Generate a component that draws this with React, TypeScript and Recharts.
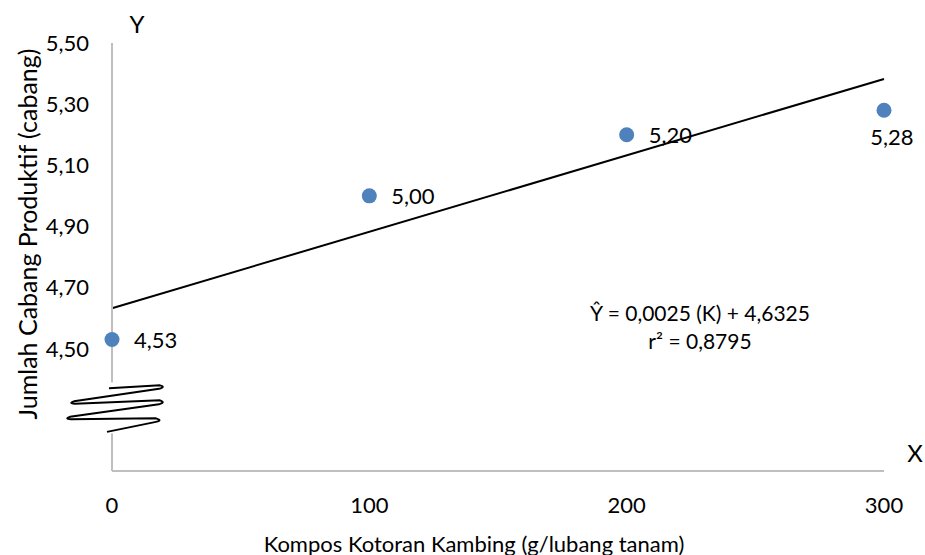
import React from 'react'
import {
  ScatterChart, Scatter, XAxis, YAxis, ReferenceLine, ReferenceDot, Label,
} from 'recharts'

// observed data: compost dose (g/planting hole) vs productive branches
const doses = [0, 100, 200, 300]
const branches = [4.53, 5.0, 5.2, 5.28]

// linear trend shown on the chart: Y = 0.0025 K + 4.6325
const trendX = [0, 300]
const trendY = [4.6325, 5.3825]

const xTicks = [0, 100, 200, 300]
const yTicks = [4.5, 4.7, 4.9, 5.1, 5.3, 5.5]
const yDomain = [4.1, 5.5]
const axisBreakAt = 4.3

const FONT = 'Lato, "Open Sans", sans-serif'
const AXIS_GRAY = '#BFBFBF'
const DOT_BLUE = '#4F81BD'

const points = doses.map((x, i) => ({ x, y: branches[i] }))
const fmt = (v: number) => v.toFixed(2).replace('.', ',')

function DotWithLabel(props: any) {
  const { cx, cy, payload } = props
  if (cx == null || cy == null) return null
  const last = payload && payload.x === doses[doses.length - 1]
  return (
    <g>
      <circle cx={cx} cy={cy} r={7.5} fill={DOT_BLUE} />
      {last ? (
        <text x={cx + 8} y={cy + 26} textAnchor="middle" dominantBaseline="central"
          fontSize={22} fontFamily={FONT} fill="#000">{fmt(payload.y)}</text>
      ) : (
        <text x={cx + 22} y={cy} textAnchor="start" dominantBaseline="central"
          fontSize={22} fontFamily={FONT} fill="#000">{fmt(payload.y)}</text>
      )}
    </g>
  )
}

// zigzag drawn over the y axis to mark the broken scale
function BreakMark(props: any) {
  const { cx, cy } = props
  if (cx == null || cy == null) return null
  const p = (dx: number, dy: number) => `${cx + dx},${cy + dy}`
  const d = [
    `M${p(-3, -21.5)}`,
    `L${p(48, -24.5)}`,
    `Q${p(54, -23)} ${p(47, -21)}`,
    `L${p(-38, -8.5)}`,
    `Q${p(-44, -6.5)} ${p(-37, -6)}`,
    `L${p(48, -9.5)}`,
    `Q${p(54, -7.5)} ${p(47, -5.5)}`,
    `L${p(-42, 7)}`,
    `Q${p(-48, 9)} ${p(-41, 9.5)}`,
    `L${p(44, 8.5)}`,
    `Q${p(51, 10.5)} ${p(44, 12)}`,
    `L${p(-5, 22)}`,
  ].join(' ')
  return (
    <g>
      <rect x={cx - 3} y={cy - 27.5} width={6} height={51} fill="#fff" />
      <path d={d} fill="none" stroke="#000" strokeWidth={2} strokeLinejoin="round" />
    </g>
  )
}

function XTitle() {
  return (
    <g fontFamily={FONT} fill="#000">
      <text x={474} y={543} textAnchor="middle" dominantBaseline="central" fontSize={22}>
        Kompos Kotoran Kambing (g/lubang tanam)
      </text>
      <text x={915} y={452} textAnchor="middle" dominantBaseline="central" fontSize={24}>X</text>
      <text x={700} y={312} textAnchor="middle" dominantBaseline="central" fontSize={21}>
        Ŷ = 0,0025 (K) + 4,6325
      </text>
      <text x={700} y={340} textAnchor="middle" dominantBaseline="central" fontSize={21}>
        r² = 0,8795
      </text>
    </g>
  )
}

function YTitle() {
  return (
    <g fontFamily={FONT} fill="#000">
      <text x={27} y={234} transform="rotate(-90 27 234)" textAnchor="middle"
        dominantBaseline="central" fontSize={25}>
        Jumlah Cabang Produktif (cabang)
      </text>
      <text x={137} y={23} textAnchor="middle" dominantBaseline="central" fontSize={24}>Y</text>
    </g>
  )
}

export default function App() {
  return (
    <div style={{ position: 'absolute', left: 0, top: 0, width: 925, height: 555, background: '#fff' }}>
      <ScatterChart width={925} height={555} margin={{ top: 43, right: 41, bottom: 54, left: 42 }}>
        <XAxis
          type="number" dataKey="x" domain={[0, 300]} ticks={xTicks} interval={0} height={30}
          axisLine={{ stroke: AXIS_GRAY, strokeWidth: 2 }} tickLine={false} tickMargin={20}
          tick={{ fontSize: 22, fontFamily: FONT, fill: '#000' }}
        >
          <Label content={<XTitle />} />
        </XAxis>
        <YAxis
          type="number" dataKey="y" domain={yDomain} ticks={yTicks} interval={0} width={70}
          axisLine={{ stroke: AXIS_GRAY, strokeWidth: 2 }} tickLine={false} tickMargin={17}
          tick={{ fontSize: 22, fontFamily: FONT, fill: '#000' }} tickFormatter={fmt}
        >
          <Label content={<YTitle />} />
        </YAxis>
        <ReferenceDot x={0} y={axisBreakAt} r={0} shape={<BreakMark />} ifOverflow="visible" />
        <ReferenceLine
          segment={[{ x: trendX[0], y: trendY[0] }, { x: trendX[1], y: trendY[1] }]}
          stroke="#000" strokeWidth={2}
        />
        <Scatter data={points} shape={<DotWithLabel />} isAnimationActive={false} />
      </ScatterChart>
    </div>
  )
}
